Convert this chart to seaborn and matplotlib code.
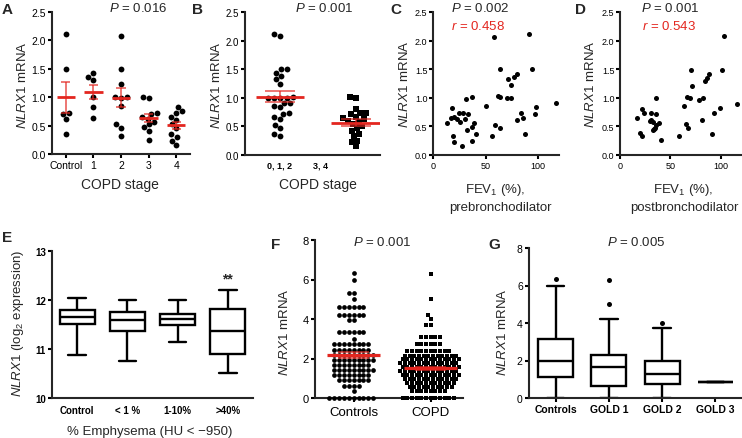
import numpy as np
import pandas as pd
import matplotlib
matplotlib.use('Agg')
import matplotlib.pyplot as plt
import seaborn as sns

# ---- DATA ---------------------------------------------------------------- #
stage_names = ['Control', '1', '2', '3', '4']
a_control = [2.11, 1.49, 0.73, 0.70, 0.61, 0.35]
a_stage1 = [1.43, 1.36, 1.30, 1.00, 0.82, 0.64]
a_stage2 = [2.07, 1.49, 1.23, 1.01, 1.00, 0.99, 0.85, 0.52, 0.46, 0.31]
a_stage3 = [1.01, 0.98, 0.72, 0.70, 0.66, 0.62, 0.57, 0.52, 0.47, 0.41, 0.25]
a_stage4 = [0.82, 0.75, 0.72, 0.65, 0.60, 0.52, 0.45, 0.35, 0.30, 0.23, 0.15]

b_names = ['0, 1, 2', '3, 4']
b_early = [2.08, 2.12, 1.51, 1.44, 1.51, 1.38, 1.32, 1.24, 1.00, 0.99, 1.00,
           0.99, 1.02, 0.84, 0.91, 0.91, 0.86, 0.72, 0.73, 0.63, 0.66, 0.48,
           0.53, 0.33, 0.36]
b_late = [1.01, 0.99, 0.81, 0.74, 0.73, 0.72, 0.66, 0.64, 0.63, 0.60, 0.58,
          0.55, 0.50, 0.47, 0.42, 0.36, 0.33, 0.25, 0.22, 0.15]

c_fev = [13, 18, 17, 20, 23, 25, 26, 29, 30, 33, 19, 20, 28, 32, 37, 39, 37,
         41, 31, 37, 50, 58, 56, 59, 64, 64, 62, 64, 70, 74, 71, 74, 77, 80,
         80, 84, 86, 88, 91, 94, 97, 98, 117]
c_nlrx1 = [0.56, 0.82, 0.65, 0.67, 0.63, 0.73, 0.57, 0.73, 0.63, 0.72, 0.33,
           0.23, 0.15, 0.43, 0.49, 0.56, 0.25, 0.37, 0.98, 1.01, 0.86, 2.07,
           0.33, 0.53, 0.47, 1.50, 1.03, 1.01, 0.99, 1.00, 1.32, 1.23, 1.37,
           1.42, 0.62, 0.74, 0.65, 0.36, 2.12, 1.50, 0.71, 0.84, 0.91]

d_fev = [17, 22, 24, 20, 22, 31, 36, 36, 31, 33, 36, 39, 33, 34, 41, 59, 63,
         65, 67, 66, 69, 70, 71, 78, 82, 81, 84, 86, 88, 91, 93, 99, 101, 103,
         116, 30, 35]
d_nlrx1 = [0.64, 0.81, 0.74, 0.38, 0.33, 0.73, 0.72, 1.00, 0.62, 0.57, 0.52,
           0.56, 0.43, 0.46, 0.26, 0.33, 0.85, 0.55, 0.47, 1.01, 1.00, 1.48,
           1.21, 0.97, 0.99, 0.62, 1.29, 1.35, 1.41, 0.36, 0.73, 0.83, 1.48,
           2.08, 0.89, 0.60, 0.48]

# panel E: box stats per group (min, q1, median, q3, max)
e_names = ['Control', '< 1 %', '1-10%', '>40%']
e_control = [10.87, 11.52, 11.65, 11.79, 12.05]
e_lt1 = [10.75, 11.37, 11.59, 11.76, 12.00]
e_1to10 = [11.14, 11.50, 11.62, 11.72, 11.99]
e_gt40 = [10.52, 10.90, 11.37, 11.81, 12.21]

# panel F: beeswarm rows (value level, number of subjects)
f_names = ['Controls', 'COPD']
ctrl_levels = [6.35, 6.0, 5.3, 5.0, 4.6, 4.2, 3.95, 3.35, 3.0, 2.75, 2.45,
               2.2, 1.9, 1.65, 1.4, 1.15, 0.9, 0.62, 0.35, 0.0]
ctrl_counts = [1, 1, 2, 1, 6, 6, 2, 6, 1, 8, 8, 9, 9, 8, 9, 8, 7, 4, 1, 10]
copd_levels = [6.28, 5.0, 4.2, 4.0, 3.7, 3.1, 2.75, 2.4, 2.15, 1.95, 1.75,
               1.55, 1.35, 1.15, 0.95, 0.75, 0.55, 0.35, 0.0]
copd_counts = [1, 1, 1, 1, 2, 5, 6, 10, 12, 13, 13, 13, 13, 13, 12, 11, 10,
               8, 12]

# panel G: box stats (min, q1, median, q3, upper whisker) + outliers
g_names = ['Controls', 'GOLD 1', 'GOLD 2', 'GOLD 3']
g_controls = [0.0, 1.12, 2.0, 3.14, 6.0]
g_gold1 = [0.0, 0.64, 1.66, 2.29, 4.21]
g_gold2 = [0.0, 0.75, 1.27, 2.0, 3.71]
g_gold3 = [0.88]
g_out_group = ['Controls', 'GOLD 1', 'GOLD 1', 'GOLD 2']
g_out_value = [6.36, 6.29, 5.0, 4.0]

# ---- STYLE ----------------------------------------------------------------#
sns.set_style('ticks')
plt.rcParams['font.family'] = ['Liberation Sans', 'DejaVu Sans']
plt.rcParams['mathtext.fontset'] = 'custom'
plt.rcParams['mathtext.rm'] = 'Liberation Sans'
plt.rcParams['mathtext.it'] = 'Liberation Sans:italic'
plt.rcParams['mathtext.bf'] = 'Liberation Sans:bold'

RED = '#e3261f'
W, H = 742, 439
fig = plt.figure(figsize=(W / 100, H / 100), dpi=100)


def make_ax(l, t, r, b):
    ax = fig.add_axes([l / W, 1 - b / H, (r - l) / W, (b - t) / H])
    return ax


def ftext(x, y, s, **kw):
    kw.setdefault('ha', 'center')
    kw.setdefault('va', 'center')
    fig.text(x / W, 1 - y / H, s, **kw)


def style_ax(ax, size=7.5):
    sns.despine(ax=ax)
    for side in ['left', 'bottom']:
        ax.spines[side].set_linewidth(1.5)
    ax.tick_params(width=1.5, length=3, pad=1.5, labelsize=size, colors='black')
    ax.set_xlabel('')
    ax.set_ylabel('')


def mean_sem(ax, groups, half_mean, half_cap, lw_mean=2.0, lw_bar=1.1):
    for pos, vals in enumerate(groups):
        s = pd.Series(vals)
        m, se = s.mean(), s.sem()
        ax.vlines(pos, m - se, m + se, color=RED, lw=lw_bar, zorder=5, alpha=0.8)
        ax.hlines([m - se, m + se], pos - half_cap, pos + half_cap,
                  color=RED, lw=lw_bar, zorder=5, alpha=0.8)
        ax.hlines(m, pos - half_mean, pos + half_mean, color=RED, lw=lw_mean, zorder=6)


def long_df(names, groups):
    rows = [(n, v) for n, g in zip(names, groups) for v in g]
    return pd.DataFrame(rows, columns=['group', 'value'])


ylab = r'$\it{NLRX1}$ mRNA'
yticks25 = [0.0, 0.5, 1.0, 1.5, 2.0, 2.5]

# ---- A ----
axA = make_ax(52, 13, 190, 155)
a_groups = [a_control, a_stage1, a_stage2, a_stage3, a_stage4]
sns.swarmplot(data=long_df(stage_names, a_groups), x='group', y='value',
              order=stage_names, color='black', size=4.2, linewidth=0, ax=axA)
mean_sem(axA, a_groups, 0.33, 0.17)
axA.set_xlim(-0.5, 4.5)
axA.set_ylim(0, 2.5)
axA.set_yticks(yticks25, [f'{v:.1f}' for v in yticks25])
style_ax(axA)
ftext(23, 85, ylab, rotation=90, fontsize=9.5)
ftext(120, 185, 'COPD stage', fontsize=10)
ftext(138, 9, r'$\it{P}$ = 0.016', fontsize=9.5)
ftext(7, 10, 'A', fontsize=11, fontweight='bold')

# ---- B ----
axB = make_ax(245, 13, 380, 156)
sns.swarmplot(data=long_df(b_names[:1], [b_early]), x='group', y='value',
              order=b_names, color='black', size=4.2, linewidth=0, ax=axB)
sns.swarmplot(data=long_df(b_names[1:], [b_late]), x='group', y='value',
              order=b_names, color='black', marker='s', size=4.0, linewidth=0, ax=axB)
mean_sem(axB, [b_early, b_late], 0.32, 0.2)
axB.set_xlim(-0.46, 1.32)
axB.set_ylim(0, 2.5)
axB.set_yticks(yticks25, [f'{v:.1f}' for v in yticks25])
style_ax(axB, size=7)
axB.set_xticks([0, 0.54], b_names, fontsize=6.5, fontweight='bold')
axB.tick_params(axis='x', length=0, pad=4)
ftext(217, 85, ylab, rotation=90, fontsize=9.5)
ftext(318, 185, 'COPD stage', fontsize=10)
ftext(324, 9, r'$\it{P}$ = 0.001', fontsize=9.5)
ftext(197, 10, 'B', fontsize=11, fontweight='bold')

# ---- C ----
axC = make_ax(433, 13, 559, 156)
sns.scatterplot(x=c_fev, y=c_nlrx1, color='black', s=13, linewidth=0, ax=axC)
axC.set_xlim(0, 120)
axC.set_ylim(0, 2.5)
axC.set_xticks([0, 50, 100])
axC.set_yticks(yticks25, [f'{v:.1f}' for v in yticks25])
style_ax(axC, size=6.5)
axC.tick_params(axis='y', pad=1)
ftext(404, 84, ylab, rotation=90, fontsize=9.5)
ftext(495, 190, r'FEV$_1$ (%),', fontsize=9.5)
ftext(500, 208, 'prebronchodilator', fontsize=9.5)
ftext(480, 9, r'$\it{P}$ = 0.002', fontsize=9.5)
ftext(478, 26, r'$\it{r}$ = 0.458', fontsize=9.5, color=RED)
ftext(396, 10, 'C', fontsize=11, fontweight='bold')

# ---- D ----
axD = make_ax(620, 13, 741, 156)
sns.scatterplot(x=d_fev, y=d_nlrx1, color='black', s=13, linewidth=0, ax=axD)
axD.set_xlim(0, 120)
axD.set_ylim(0, 2.5)
axD.set_xticks([0, 50, 100])
axD.set_yticks(yticks25, [f'{v:.1f}' for v in yticks25])
style_ax(axD, size=6.5)
axD.tick_params(axis='y', pad=1)
ftext(591, 84, ylab, rotation=90, fontsize=9.5)
ftext(683, 190, r'FEV$_1$ (%),', fontsize=9.5)
ftext(684, 208, 'postbronchodilator', fontsize=9.5)
ftext(670, 9, r'$\it{P}$ = 0.001', fontsize=9.5)
ftext(669, 26, r'$\it{r}$ = 0.543', fontsize=9.5, color=RED)
ftext(581, 10, 'D', fontsize=11, fontweight='bold')

# ---- E ----
axE = make_ax(52, 252, 253, 399)
sns.boxplot(data=long_df(e_names, [e_control, e_lt1, e_1to10, e_gt40]),
            x='group', y='value', order=e_names, whis=(0, 100), width=0.7,
            color='white', linecolor='black', linewidth=1.7, saturation=1,
            showfliers=False, ax=axE)
axE.set_xlim(-0.5, 3.5)
axE.set_ylim(10, 13)
axE.set_yticks([10, 11, 12, 13])
style_ax(axE, size=7)
axE.tick_params(axis='x', length=0, pad=5)
for lab in axE.get_xticklabels() + axE.get_yticklabels():
    lab.set_fontweight('bold')
axE.text(3, 12.3, '**', ha='center', va='bottom', fontsize=10, fontweight='bold')
ftext(18, 323, r'$\it{NLRX1}$ (log$_2$ expression)', rotation=90, fontsize=9.5)
ftext(150, 432, '% Emphysema (HU < \u2212950)', fontsize=9.5)
ftext(7, 238, 'E', fontsize=11, fontweight='bold')

# ---- F ----
axF = make_ax(315, 241, 463, 399)
f_ctrl = np.repeat(ctrl_levels, ctrl_counts)
f_copd = np.repeat(copd_levels, copd_counts)
sns.swarmplot(data=long_df(f_names[:1], [f_ctrl]), x='group', y='value',
              order=f_names, color='black', size=3.4, linewidth=0,
              clip_on=False, ax=axF)
sns.swarmplot(data=long_df(f_names[1:], [f_copd]), x='group', y='value',
              order=f_names, color='black', marker='s', size=3.2, linewidth=0,
              clip_on=False, ax=axF)
mean_sem(axF, [f_ctrl, f_copd], 0.34, 0.2, lw_mean=2.3)
axF.set_xlim(-0.5, 1.42)
axF.set_ylim(0, 8)
axF.set_yticks([0, 2, 4, 6, 8])
style_ax(axF, size=8)
axF.tick_params(axis='x', labelsize=9.5, pad=3)
ftext(285, 332, ylab, rotation=90, fontsize=9.5)
ftext(382, 243, r'$\it{P}$ = 0.001', fontsize=9.5)
ftext(276, 245, 'F', fontsize=11, fontweight='bold')

# ---- G ----
axG = make_ax(529, 249, 741, 399)
sns.boxplot(data=long_df(g_names, [g_controls, g_gold1, g_gold2, g_gold3]),
            x='group', y='value', order=g_names, whis=(0, 100), width=0.66,
            color='white', linecolor='black', linewidth=1.7, saturation=1,
            showfliers=False, ax=axG)
sns.stripplot(x=g_out_group, y=g_out_value, order=g_names, jitter=False,
              color='black', size=3.6, linewidth=0, ax=axG)
axG.set_xlim(-0.5, 3.48)
axG.set_ylim(0, 8)
axG.set_yticks([0, 2, 4, 6, 8])
style_ax(axG, size=7.5)
axG.tick_params(axis='x', labelsize=7.5)
for lab in axG.get_xticklabels():
    lab.set_fontweight('bold')
ftext(503, 332, ylab, rotation=90, fontsize=9.5)
ftext(636, 243, r'$\it{P}$ = 0.005', fontsize=9.5)
ftext(494, 245, 'G', fontsize=11, fontweight='bold')

fig.savefig('out.png', dpi=100)
